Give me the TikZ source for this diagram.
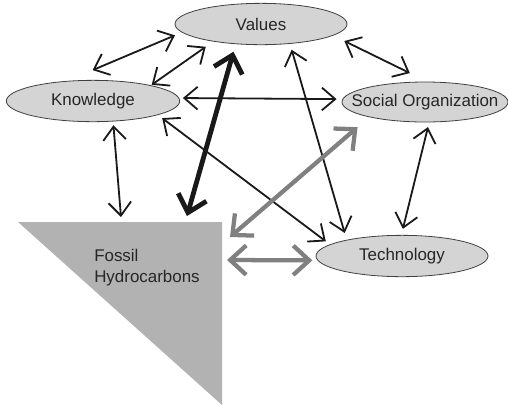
\documentclass[tikz,border=0pt]{standalone}
\usepackage{fontspec}
\setmainfont{Liberation Sans}
\usetikzlibrary{shapes.geometric}
\usetikzlibrary{arrows.meta}

\tikzset{
  bubble/.style={ellipse, draw=black!75, fill=black!17, line width=0.6pt, inner sep=0pt, outer sep=0pt,
    minimum width=129pt, minimum height=31pt, text=black!85, font=\fontsize{12.7}{15.7}\selectfont},
  link/.style={draw=black!90, line width=1.35pt,
    {Straight Barb[length=10pt,width=17pt]}-{Straight Barb[length=10pt,width=17pt]}},
  heavylink/.style={draw=black!90, line width=3.6pt,
    {Straight Barb[length=12pt,width=22pt]}-{Straight Barb[length=12pt,width=22pt]}},
  greylink/.style={draw=black!50, line width=3.2pt,
    {Straight Barb[length=12pt,width=22pt]}-{Straight Barb[length=12pt,width=22pt]}}
}

\begin{document}
\begin{tikzpicture}[x=0.75pt,y=0.75pt,yscale=-1,xscale=1]
\useasboundingbox (0,0) rectangle (508,405);

%Shape: Triangle
\fill[black!30] (18,222) -- (222,222) -- (222,405) -- cycle ;
% Text Node
\node[anchor=north west, align=left, inner sep=0pt, text=black!85, font=\fontsize{12.7}{15.7}\selectfont] (fossil) at (94,249) {Fossil\\Hydrocarbons};
\coordinate (hcK) at (121,217);
\coordinate (hcV) at (187,216);
\coordinate (hcS) at (230,237);
\coordinate (hcT) at (227,260);

%Shape: Ellipse
\node[bubble] (values) at (261,24) {Values};
\node[bubble, minimum width=130pt] (knowledge) at (93,101) {Knowledge};
\node[bubble, minimum width=124.5pt, minimum height=30pt] (social) at (425,102) {\makebox[0pt]{Social Organization}};
\node[bubble] (tech) at (402,256) {Technology};

%Straight Lines
\draw[link, shorten <=21.7pt, shorten >=5.9pt] (knowledge.144) -- (values.186);
\draw[link, shorten <=1pt, shorten >=7.2pt] (knowledge.15) -- (values.200);
\draw[link, shorten <=3.1pt, shorten >=4.7pt] (knowledge.2) -- (social.178);
\draw[link, shorten <=4.2pt, shorten >=4.1pt] (knowledge.348) -- (tech.171);
\draw[link, shorten <=3.1pt] (knowledge.315) -- (hcK);
\draw[link, shorten <=9.6pt, shorten >=15.3pt] (values.351) -- (social.81);
\draw[link, shorten <=4.9pt, shorten >=5.6pt] (values.326) -- (tech.164);
\draw[link, shorten <=3.9pt, shorten >=5pt] (social.282) -- (tech.92);
\draw[heavylink, shorten >=6.2pt] (hcV) -- (values.218);
\draw[greylink, shorten >=11.8pt] (hcS) -- (social.195);
\draw[greylink, shorten >=4.2pt] (hcT) -- (tech.183);

\end{tikzpicture}
\end{document}
